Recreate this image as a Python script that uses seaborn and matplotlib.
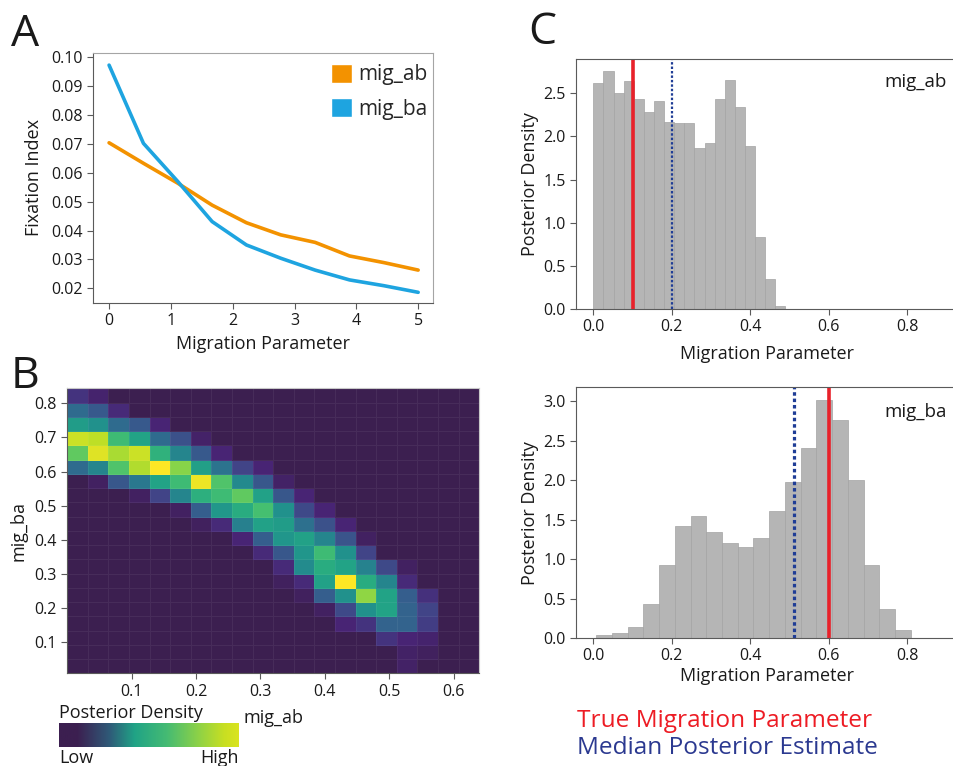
import numpy as np
import pandas as pd
import matplotlib
matplotlib.use('Agg')
import matplotlib.pyplot as plt
import seaborn as sns
from matplotlib.patches import Patch
from matplotlib.colors import LinearSegmentedColormap

# ---- panel A: fixation index vs migration
mig_x = [0.0, 0.556, 1.111, 1.667, 2.222, 2.778, 3.333, 3.889, 4.444, 5.0]
fst_ab = [0.0704, 0.0633, 0.0564, 0.0488, 0.0427, 0.0385, 0.0359, 0.0312, 0.0289, 0.0263]
fst_ba = [0.0973, 0.0702, 0.0570, 0.0431, 0.0350, 0.0304, 0.0263, 0.0229, 0.0209, 0.0186]

# ---- panel B: joint posterior (rows top -> bottom, relative density)
hm_xrange = (0.0, 0.64)
hm_yrange = (0.009, 0.844)
hm_rows = [
    [0.15, 0.08, 0, 0, 0, 0, 0, 0, 0, 0, 0, 0, 0, 0, 0, 0, 0, 0, 0, 0],
    [0.35, 0.28, 0.12, 0, 0, 0, 0, 0, 0, 0, 0, 0, 0, 0, 0, 0, 0, 0, 0, 0],
    [0.55, 0.50, 0.35, 0.28, 0.10, 0, 0, 0, 0, 0, 0, 0, 0, 0, 0, 0, 0, 0, 0, 0],
    [0.92, 0.90, 0.68, 0.58, 0.35, 0.25, 0.07, 0, 0, 0, 0, 0, 0, 0, 0, 0, 0, 0, 0, 0],
    [0.75, 0.95, 0.87, 0.92, 0.64, 0.45, 0.28, 0.10, 0, 0, 0, 0, 0, 0, 0, 0, 0, 0, 0, 0],
    [0.35, 0.45, 0.72, 0.88, 1.00, 0.82, 0.56, 0.38, 0.20, 0.10, 0, 0, 0, 0, 0, 0, 0, 0, 0, 0],
    [0, 0.05, 0.27, 0.40, 0.58, 0.68, 0.97, 0.72, 0.47, 0.27, 0.06, 0, 0, 0, 0, 0, 0, 0, 0, 0],
    [0, 0, 0, 0.05, 0.20, 0.45, 0.63, 0.68, 0.75, 0.57, 0.27, 0.10, 0, 0, 0, 0, 0, 0, 0, 0],
    [0, 0, 0, 0, 0, 0.05, 0.30, 0.53, 0.62, 0.70, 0.50, 0.22, 0.10, 0, 0, 0, 0, 0, 0, 0],
    [0, 0, 0, 0, 0, 0, 0.04, 0.12, 0.43, 0.57, 0.55, 0.37, 0.25, 0.10, 0, 0, 0, 0, 0, 0],
    [0, 0, 0, 0, 0, 0, 0, 0, 0.10, 0.30, 0.52, 0.57, 0.45, 0.26, 0.05, 0, 0, 0, 0, 0],
    [0, 0, 0, 0, 0, 0, 0, 0, 0, 0.12, 0.27, 0.52, 0.68, 0.50, 0.20, 0, 0, 0, 0, 0],
    [0, 0, 0, 0, 0, 0, 0, 0, 0, 0, 0.12, 0.48, 0.62, 0.58, 0.44, 0.22, 0.05, 0, 0, 0],
    [0, 0, 0, 0, 0, 0, 0, 0, 0, 0, 0.04, 0.12, 0.57, 1.00, 0.62, 0.45, 0.12, 0, 0, 0],
    [0, 0, 0, 0, 0, 0, 0, 0, 0, 0, 0, 0.04, 0.30, 0.50, 0.83, 0.58, 0.30, 0.14, 0, 0],
    [0, 0, 0, 0, 0, 0, 0, 0, 0, 0, 0, 0, 0.05, 0.22, 0.50, 0.58, 0.32, 0.20, 0, 0],
    [0, 0, 0, 0, 0, 0, 0, 0, 0, 0, 0, 0, 0, 0.10, 0.15, 0.32, 0.32, 0.18, 0, 0],
    [0, 0, 0, 0, 0, 0, 0, 0, 0, 0, 0, 0, 0, 0, 0, 0.15, 0.10, 0.08, 0, 0],
    [0, 0, 0, 0, 0, 0, 0, 0, 0, 0, 0, 0, 0, 0, 0, 0, 0.06, 0.04, 0, 0],
    [0, 0, 0, 0, 0, 0, 0, 0, 0, 0, 0, 0, 0, 0, 0, 0, 0.06, 0, 0, 0],
]

# ---- panel C: posterior histograms (density per bin)
ab_range = (0.0, 0.49)
ab_density = [2.62, 2.76, 2.50, 2.64, 2.43, 2.28, 2.41, 2.17, 2.16, 2.16,
              1.87, 1.92, 2.44, 2.65, 2.34, 1.89, 0.84, 0.35, 0.03]
ba_range = (0.007, 0.81)
ba_density = [0.04, 0.06, 0.135, 0.43, 0.925, 1.42, 1.55, 1.34, 1.20, 1.15,
              1.27, 1.61, 1.98, 2.41, 3.02, 2.76, 2.01, 0.93, 0.37, 0.10]
true_ab, median_ab = 0.10, 0.20
true_ba, median_ba = 0.60, 0.513

ORANGE = '#f39200'
BLUE = '#1ea4e0'
RED = '#e8212a'
NAVY = '#1f3d96'
GREY = '#b5b5b5'
INK = '#1a1a1a'
SPINE = '#5a5a5a'

sns.set_style('ticks')
plt.rcParams['font.family'] = ['Open Sans', 'DejaVu Sans']
plt.rcParams['axes.edgecolor'] = SPINE
plt.rcParams['xtick.color'] = SPINE
plt.rcParams['ytick.color'] = SPINE
plt.rcParams['xtick.labelcolor'] = INK
plt.rcParams['ytick.labelcolor'] = INK
plt.rcParams['axes.labelcolor'] = INK

W, H = 954, 766
fig = plt.figure(figsize=(W / 100, H / 100), dpi=100)


def box(l, t, r, b):
    return [l / W, 1 - b / H, (r - l) / W, (b - t) / H]


TICK = 11.5
LAB = 13

# ---------------- A
axA = fig.add_axes(box(93, 53, 433, 303))
dfA = pd.DataFrame({'mig': mig_x * 2,
                    'fst': fst_ab + fst_ba,
                    'param': ['mig_ab'] * len(mig_x) + ['mig_ba'] * len(mig_x)})
sns.lineplot(data=dfA, x='mig', y='fst', hue='param',
             palette={'mig_ab': ORANGE, 'mig_ba': BLUE},
             linewidth=2.6, ax=axA, legend=False)
axA.set_xlim(-0.26, 5.24)
axA.set_ylim(0.0149, 0.1015)
axA.set_xticks(range(6))
yt = [0.02, 0.03, 0.04, 0.05, 0.06, 0.07, 0.08, 0.09, 0.10]
axA.set_yticks(yt)
axA.set_yticklabels(['%.2f' % v for v in yt])
axA.tick_params(labelsize=TICK, length=4, width=0.8)
axA.set_xlabel('Migration Parameter', fontsize=LAB, labelpad=4)
axA.set_ylabel('Fixation Index', fontsize=LAB, labelpad=6)
for s in ['top', 'right']:
    axA.spines[s].set_color('#a5a5a5')
axA.legend(handles=[Patch(facecolor=ORANGE, label='mig_ab'),
                    Patch(facecolor=BLUE, label='mig_ba')],
           loc='upper left', bbox_to_anchor=(331 / W, 1 - 64 / H),
           bbox_transform=fig.transFigure, frameon=False, fontsize=15,
           handlelength=1.0, handleheight=1.0, handletextpad=0.3,
           labelspacing=0.62, borderpad=0, borderaxespad=0)

# ---------------- B
cmap = LinearSegmentedColormap.from_list(
    'post', [(0.0, '#3c1f50')] +
    [(t, plt.cm.viridis(t)) for t in np.linspace(0.1, 1.0, 10)])
axB = fig.add_axes(box(67.3, 388.3, 479.3, 673.3))
vals = np.array(hm_rows)[::-1]
xe = np.linspace(hm_xrange[0], hm_xrange[1], vals.shape[1] + 1)
ye = np.linspace(hm_yrange[0], hm_yrange[1], vals.shape[0] + 1)
axB.pcolormesh(xe, ye, vals, cmap=cmap, vmin=0, vmax=1,
               edgecolors=(1, 1, 1, 0.06), linewidth=0.6)
axB.set_xlim(*hm_xrange)
axB.set_ylim(*hm_yrange)
axB.set_xticks([0.1, 0.2, 0.3, 0.4, 0.5, 0.6])
axB.set_yticks([0.1, 0.2, 0.3, 0.4, 0.5, 0.6, 0.7, 0.8])
axB.tick_params(labelsize=TICK, length=4, width=0.8)
axB.set_xlabel('mig_ab', fontsize=LAB, labelpad=7)
axB.set_ylabel('mig_ba', fontsize=LAB, labelpad=5)
for s in ['top', 'right']:
    axB.spines[s].set_color('#c8c8c8')

cbar_cmap = LinearSegmentedColormap.from_list(
    'cb', [(0.0, '#3c1f50'), (0.1, '#3c1f50'), (0.28, '#2f5a78'),
           (0.42, '#20a386'), (0.6, '#45bb73'), (0.78, '#8fd246'),
           (0.92, '#c8df22'), (1.0, '#dae41f')])
axCb = fig.add_axes(box(59, 723, 239, 747))
axCb.imshow(np.linspace(0, 1, 256)[None, :], cmap=cbar_cmap, aspect='auto')
axCb.axis('off')
fig.text(59 / W, 1 - 718 / H, 'Posterior Density', fontsize=LAB, color=INK, va='baseline')
fig.text(59 / W, 1 - 763 / H, 'Low', fontsize=LAB, color=INK, va='baseline')
fig.text(239 / W, 1 - 763 / H, 'High', fontsize=LAB, color=INK, va='baseline', ha='right')


# ---------------- C
def posterior(ax, rng, dens, truth, med, name, ymax, yticks, lw_med, labpad, txt_y):
    bw = (rng[1] - rng[0]) / len(dens)
    mids = [rng[0] + bw * (i + 0.5) for i in range(len(dens))]
    dfh = pd.DataFrame({'m': mids, 'd': dens})
    sns.histplot(data=dfh, x='m', weights='d', binwidth=bw, binrange=rng, ax=ax,
                 color=GREY, alpha=1, edgecolor='#a3a3a3', linewidth=0.5)
    ax.axvline(truth, color=RED, lw=2.6)
    ax.axvline(med, color=NAVY, lw=lw_med, ls=(0, (1.1, 0.9)))
    ax.set_xlim(-0.0441, 0.930)
    ax.set_ylim(0, ymax)
    ax.set_xticks([0.0, 0.2, 0.4, 0.6, 0.8])
    ax.set_xticklabels(['0.0', '0.2', '0.4', '0.6', '0.8'])
    ax.set_yticks(yticks)
    ax.set_yticklabels(['%.1f' % v for v in yticks])
    ax.tick_params(labelsize=TICK, length=4, width=0.8)
    ax.set_xlabel('Migration Parameter', fontsize=LAB, labelpad=labpad)
    ax.set_ylabel('Posterior Density', fontsize=LAB, labelpad=3)
    ax.text(0.902, txt_y, name, transform=ax.get_xaxis_transform(),
            ha='right', va='baseline', fontsize=LAB + 0.5, color=INK)


axC1 = fig.add_axes(box(576, 59, 958, 309))
posterior(axC1, ab_range, ab_density, true_ab, median_ab, 'mig_ab', 2.898,
          [0.0, 0.5, 1.0, 1.5, 2.0, 2.5], 1.6, 7, 0.888)
axC2 = fig.add_axes(box(576, 387.3, 958, 638))
posterior(axC2, ba_range, ba_density, true_ba, median_ba, 'mig_ba', 3.18,
          [0.0, 0.5, 1.0, 1.5, 2.0, 2.5, 3.0], 2.3, 2, 0.883)

fig.text(577 / W, 1 - 727 / H, 'True Migration Parameter', fontsize=17.6, color='#ed1c24', va='baseline')
fig.text(577 / W, 1 - 754 / H, 'Median Posterior Estimate', fontsize=17.6, color='#2b3990', va='baseline')

# panel letters
fig.text(11 / W, 1 - 46 / H, 'A', fontsize=32, color=INK, va='baseline')
fig.text(11 / W, 1 - 388 / H, 'B', fontsize=32, color=INK, va='baseline')
fig.text(528 / W, 1 - 44 / H, 'C', fontsize=32, color=INK, va='baseline')

fig.savefig('out.png', dpi=100)
